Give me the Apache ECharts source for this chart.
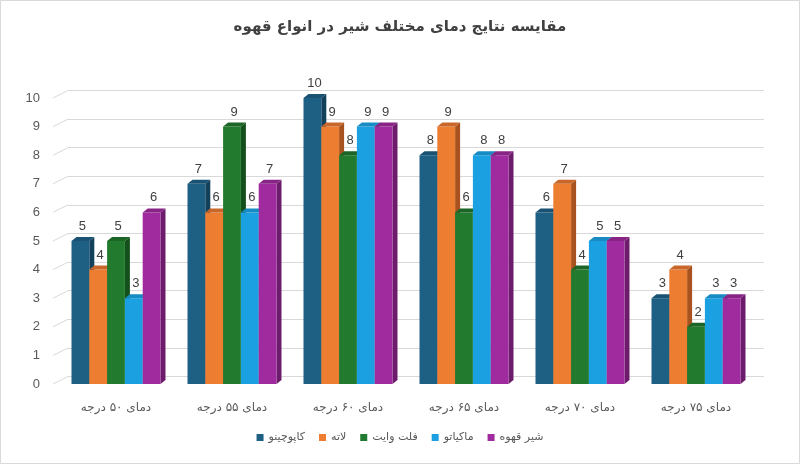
<!DOCTYPE html>
<html>
<head>
<meta charset="utf-8">
<script src="https://cdn.jsdelivr.net/npm/echarts@6/dist/echarts.min.js"></script>
<style>
  html, body { margin: 0; padding: 0; background: #fff; }
  #main { width: 800px; height: 464px; }
</style>
</head>
<body>
<div id="main"></div>
<script>
// دسته ها
var categories = ['دمای ۵۰ درجه', 'دمای ۵۵ درجه', 'دمای ۶۰ درجه', 'دمای ۶۵ درجه', 'دمای ۷۰ درجه', 'دمای ۷۵ درجه'];
var seriesNames = ['کاپوچینو', 'لاته', 'فلت وایت', 'ماکیاتو', 'شیر قهوه'];
// مقادیر هر سری
var cappuccino = [5, 7, 10, 8, 6, 3];
var latte = [4, 6, 9, 9, 7, 4];
var flatWhite = [5, 9, 8, 6, 4, 2];
var macchiato = [3, 6, 9, 8, 5, 3];
var milkCoffee = [6, 7, 9, 8, 5, 3];
var yTicks = [0, 1, 2, 3, 4, 5, 6, 7, 8, 9, 10];

var values = [cappuccino, latte, flatWhite, macchiato, milkCoffee];
// front, top, side
var colors = [
  ['#1e5f84', '#1a5273', '#13415c'],
  ['#ed7d31', '#c9662a', '#a8531f'],
  ['#217a2e', '#1b6526', '#13501c'],
  ['#1ba1e2', '#178bc4', '#116f9e'],
  ['#a02b9e', '#892487', '#6d1c6c']
];

var BW = 17.8;   // bar width
var DX = 5, DY = -4;  // depth of the bars

function makeBarRender(i) {
  return function (params, api) {
    var cat = api.value(0);
    var top = api.coord([cat, api.value(1)]);
    var base = api.coord([cat, 0]);
    var x = top[0] - 2.5 * BW + i * BW;
    var t = top[1], b = base[1];
    return {
      type: 'group',
      children: [
        {
          type: 'polygon',
          shape: { points: [[x + BW, t], [x + BW + DX, t + DY], [x + BW + DX, b + DY], [x + BW, b]] },
          style: { fill: colors[i][2] }
        },
        {
          type: 'rect',
          shape: { x: x, y: t, width: BW, height: b - t },
          style: { fill: colors[i][0] }
        },
        {
          type: 'polygon',
          shape: { points: [[x, t], [x + BW, t], [x + BW + DX, t + DY], [x + DX, t + DY]] },
          style: { fill: colors[i][1] }
        },
        {
          type: 'text',
          z2: 100,
          style: {
            x: x + BW / 2 + 2, y: t + DY - 4,
            text: String(api.value(1)),
            align: 'center', verticalAlign: 'bottom',
            fill: '#404040', fontSize: 13, fontFamily: 'Liberation Sans, Arial, sans-serif'
          }
        }
      ]
    };
  };
}

var chart = echarts.init(document.getElementById('main'));

var series = [];
// خطوط مورب کف
series.push({
  type: 'custom',
  xAxisIndex: 0, yAxisIndex: 0,
  silent: true,
  z: 1,
  data: yTicks.map(function (v) { return [0, v]; }),
  renderItem: function (params, api) {
    var p = api.coord([0, api.value(1)]);
    var x0 = p[0] - api.size([1, 0])[0] / 2 - 5;
    return {
      type: 'line',
      shape: { x1: x0, y1: p[1], x2: x0 + 15, y2: p[1] - 7.5 },
      style: { stroke: '#d9d9d9', lineWidth: 1 }
    };
  }
});
for (var i = 0; i < values.length; i++) {
  series.push({
    name: seriesNames[i],
    type: 'custom',
    xAxisIndex: 0, yAxisIndex: 0,
    itemStyle: { color: colors[i][0] },
    data: values[i].map(function (v, k) { return [k, v]; }),
    renderItem: makeBarRender(i)
  });
}

var option = {
  backgroundColor: '#ffffff',
  animation: false,
  title: {
    text: 'مقایسه نتایج دمای مختلف شیر در انواع قهوه',
    left: 'center',
    top: 15,
    textStyle: { fontSize: 15, fontWeight: 'bold', color: '#404040', fontFamily: 'DejaVu Sans, sans-serif' }
  },
  legend: {
    bottom: 16,
    left: 'center',
    icon: 'rect',
    itemWidth: 7,
    itemHeight: 7,
    itemGap: 14,
    textStyle: { fontSize: 11, color: '#595959', fontFamily: 'DejaVu Sans, sans-serif' },
    data: seriesNames
  },
  graphic: [{
    type: 'rect',
    shape: { x: 0.5, y: 0.5, width: 799, height: 463 },
    style: { fill: 'none', stroke: '#d9d9d9', lineWidth: 1 },
    silent: true
  }],
  grid: [
    { left: 58, right: 46, top: 98, bottom: 80 },
    { left: 68, right: 36, top: 90.5, bottom: 87.5 }
  ],
  xAxis: [
    {
      type: 'category', gridIndex: 0, data: categories,
      axisLine: { show: false }, axisTick: { show: false },
      axisLabel: { margin: 18, fontSize: 12, color: '#595959', fontFamily: 'DejaVu Sans, sans-serif' }
    },
    {
      type: 'category', gridIndex: 1, data: categories, show: false
    }
  ],
  yAxis: [
    {
      type: 'value', gridIndex: 0, min: 0, max: 10, interval: 1,
      axisLine: { show: false }, axisTick: { show: false },
      splitLine: { show: false },
      axisLabel: { margin: 18, fontSize: 13, color: '#595959', padding: [8, 0, 0, 0], fontFamily: 'Liberation Sans, Arial, sans-serif' }
    },
    {
      type: 'value', gridIndex: 1, min: 0, max: 10, interval: 1,
      axisLine: { show: false }, axisTick: { show: false }, axisLabel: { show: false },
      splitLine: { show: true, lineStyle: { color: '#d9d9d9', width: 1 } }
    }
  ],
  series: series
};

chart.setOption(option);
</script>
</body>
</html>
